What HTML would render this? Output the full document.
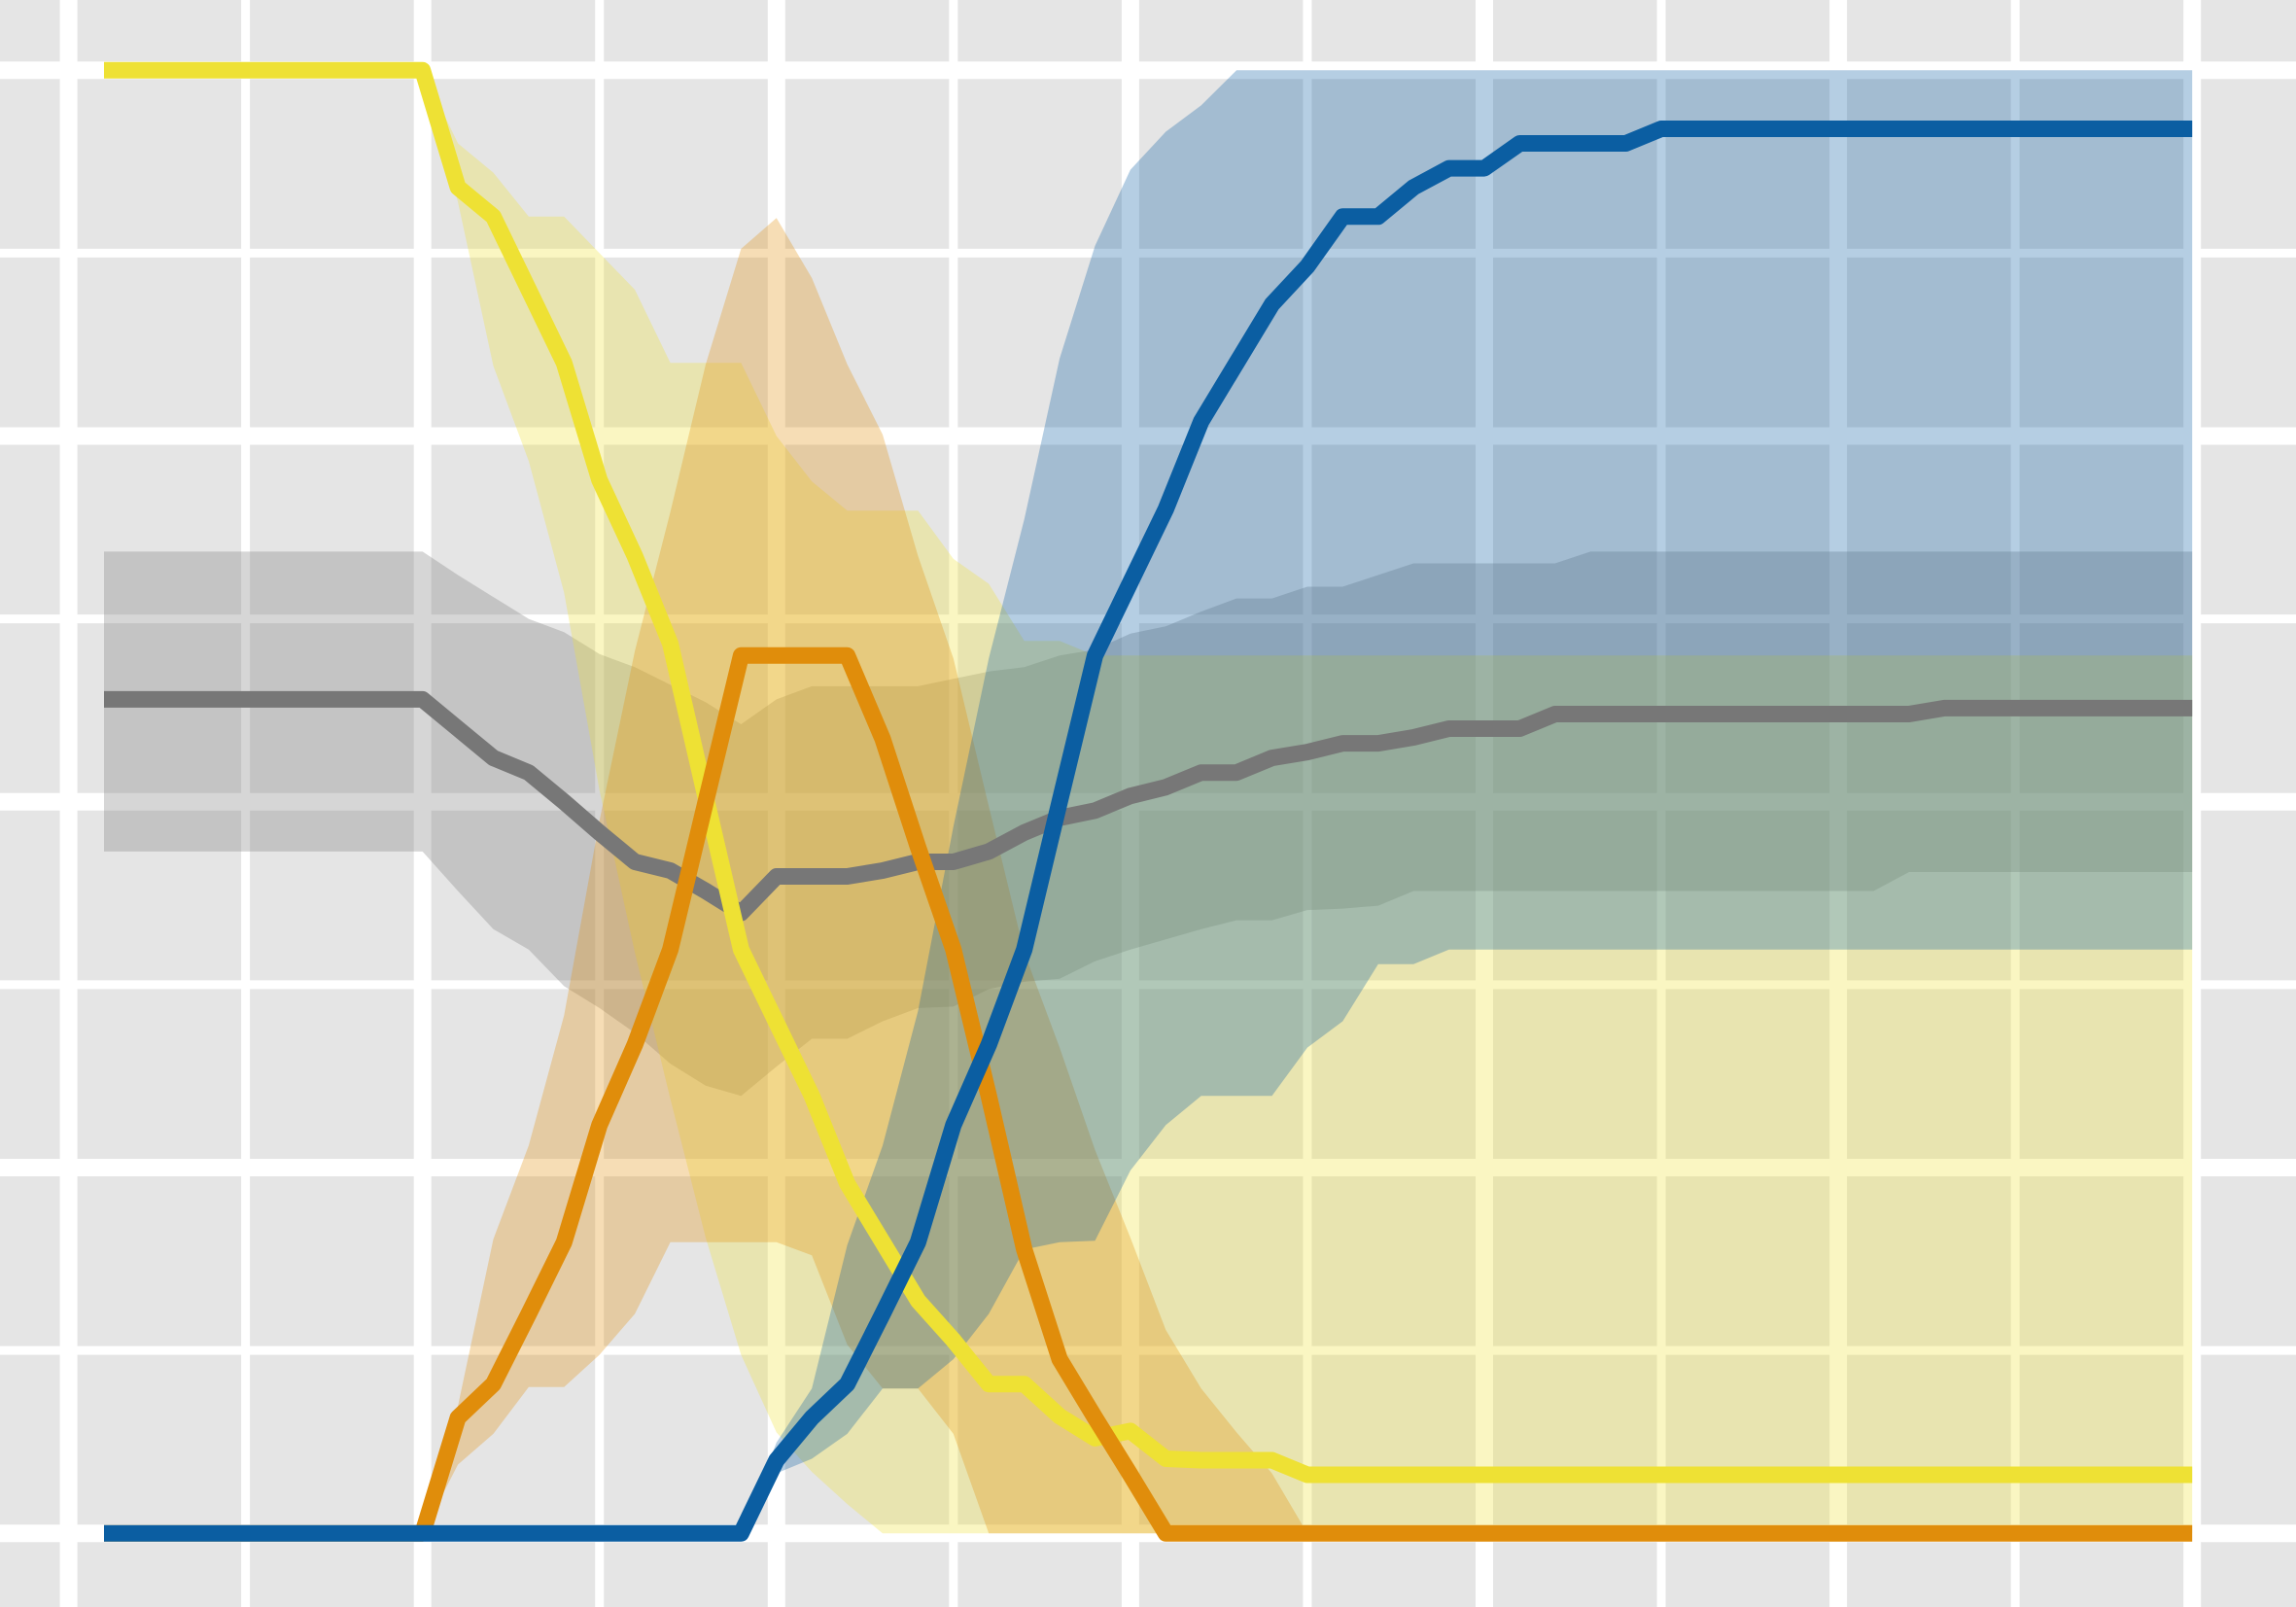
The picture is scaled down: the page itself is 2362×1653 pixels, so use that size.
<!DOCTYPE html>
<html><head><meta charset="utf-8"><style>
html,body{margin:0;padding:0;background:#e5e5e5;}
svg{display:block;}
</style></head><body>
<svg id="chart" width="2362" height="1653" viewBox="0 0 2362 1653" xmlns="http://www.w3.org/2000/svg">
<rect x="0" y="0" width="2362" height="1653" fill="#e5e5e5"/>
<g id="grid"></g>
<g id="bands"></g>
<g id="lines"></g>
</svg>
<script>
const yellowLine=[1,1,1,1,1,1,1,1,1,1,.920,.900,.850,.800,.720,.668,.608,.503,.399,.349,.299,.239,.199,.159,.132,.102,.102,.080,.065,.070,.051,.050,.050,.050,.040,.040,.040,.040,.040,.040,.040,.040,.040,.040,.040,.040,.040,.040,.040,.040,.040,.040,.040,.040,.040,.040,.040,.040,.040,.040];
const orangeLine=[0,0,0,0,0,0,0,0,0,0,.079,.102,.150,.199,.279,.334,.399,.500,.600,.600,.600,.600,.543,.469,.399,.299,.194,.119,.079,.040,0,0,0,0,0,0,0,0,0,0,0,0,0,0,0,0,0,0,0,0,0,0,0,0,0,0,0,0,0,0];
const blueLine=[0,0,0,0,0,0,0,0,0,0,0,0,0,0,0,0,0,0,0,.050,.079,.102,.150,.199,.279,.334,.399,.500,.600,.650,.700,.760,.800,.840,.866,.900,.900,.920,.933,.933,.950,.950,.950,.950,.960,.960,.960,.960,.960,.960,.960,.960,.960,.960,.960,.960,.960,.960,.960,.960];
const grayLine=[.570,.570,.570,.570,.570,.570,.570,.570,.570,.570,.550,.530,.520,.500,.479,.459,.453,.439,.424,.449,.449,.449,.453,.459,.459,.466,.479,.489,.494,.504,.510,.520,.520,.530,.534,.540,.540,.544,.550,.550,.550,.560,.560,.560,.560,.560,.560,.560,.560,.560,.560,.560,.564,.564,.564,.564,.564,.564,.564,.564];

const yellowUpper=[1,1,1,1,1,1,1,1,1,1,.950,.930,.900,.900,.875,.850,.800,.800,.800,.750,.719,.699,.699,.699,.666,.649,.610,.610,.600,.600,.600,.600,.600,.600,.600,.600,.600,.600,.600,.600,.600,.600,.600,.600,.600,.600,.600,.600,.600,.600,.600,.600,.600,.600,.600,.600,.600,.600,.600,.600];
const yellowLower=[1,1,1,1,1,1,1,1,1,1,.910,.798,.733,.643,.508,.397,.297,.202,.122,.069,.042,.020,0,0,0,0,0,0,0,0,0,0,0,0,0,0,0,0,0,0,0,0,0,0,0,0,0,0,0,0,0,0,0,0,0,0,0,0,0,0];
const orangeUpper=[0,0,0,0,0,0,0,0,0,0,.087,.201,.265,.354,.487,.603,.698,.799,.878,.899,.858,.799,.751,.668,.598,.497,.397,.332,.262,.202,.139,.099,.069,.041,0,0,0,0,0,0,0,0,0,0,0,0,0,0,0,0,0,0,0,0,0,0,0,0,0,0];
const orangeLower=[0,0,0,0,0,0,0,0,0,0,.047,.068,.100,.100,.122,.150,.199,.199,.199,.199,.190,.129,.099,.099,.068,0,0,0,0,0,0,0,0,0,0,0,0,0,0,0,0,0,0,0,0,0,0,0,0,0,0,0,0,0,0,0,0,0,0,0];
const blueUpper=[0,0,0,0,0,0,0,0,0,0,0,0,0,0,0,0,0,0,0,.062,.099,.197,.265,.357,.483,.598,.693,.803,.880,.932,.958,.976,1,1,1,1,1,1,1,1,1,1,1,1,1,1,1,1,1,1,1,1,1,1,1,1,1,1,1,1];
const blueLower=[0,0,0,0,0,0,0,0,0,0,0,0,0,0,0,0,0,0,0,.041,.051,.068,.099,.099,.119,.150,.194,.199,.200,.248,.279,.299,.299,.299,.332,.350,.389,.389,.399,.399,.399,.399,.399,.399,.399,.399,.399,.399,.399,.399,.399,.399,.399,.399,.399,.399,.399,.399,.399,.399];
const grayUpper=[.671,.671,.671,.671,.671,.671,.671,.671,.671,.671,.655,.640,.625,.616,.601,.592,.580,.568,.553,.570,.579,.579,.579,.579,.584,.589,.592,.600,.604,.615,.620,.630,.639,.639,.647,.647,.655,.663,.663,.663,.663,.663,.671,.671,.671,.671,.671,.671,.671,.671,.671,.671,.671,.671,.671,.671,.671,.671,.671,.671];
const grayLower=[.466,.466,.466,.466,.466,.466,.466,.466,.466,.466,.439,.413,.399,.374,.359,.342,.321,.306,.299,.319,.338,.338,.350,.359,.360,.372,.377,.379,.391,.399,.406,.413,.419,.419,.426,.427,.429,.439,.439,.439,.439,.439,.439,.439,.439,.439,.439,.439,.439,.439,.439,.452,.452,.452,.452,.452,.452,.452,.452,.452];

const xGridTicks=[-1,4,9,14,19,24,29,34,39,44,49,54,59];
const yGridTicks=[0,0.125,0.25,0.375,0.5,0.625,0.75,0.875,1];

const NS='http://www.w3.org/2000/svg';
function X(i){return 107+i*36.41;}
function Y(v){return 1577.2-v*1504.9;}

const grid=document.getElementById('grid');
xGridTicks.forEach((t,k)=>{
  const l=document.createElementNS(NS,'line');
  l.setAttribute('x1',X(t));l.setAttribute('x2',X(t));l.setAttribute('y1',0);l.setAttribute('y2',1653);
  l.setAttribute('stroke','#fff');l.setAttribute('stroke-width',k%2===0?18:9);
  
  
  grid.appendChild(l);
});
yGridTicks.forEach((t,k)=>{
  const l=document.createElementNS(NS,'line');
  l.setAttribute('y1',Y(t));l.setAttribute('y2',Y(t));l.setAttribute('x1',0);l.setAttribute('x2',2362);
  l.setAttribute('stroke','#fff');l.setAttribute('stroke-width',k%2===0?18:9);
  
  
  grid.appendChild(l);
});

const bands=document.getElementById('bands');
function band(up,lo,color,name){
  let d='';
  up.forEach((v,i)=>{d+=(i?'L':'M')+X(i).toFixed(1)+','+Y(v).toFixed(1);});
  for(let i=lo.length-1;i>=0;i--){d+='L'+X(i).toFixed(1)+','+Y(lo[i]).toFixed(1);}
  d+='Z';
  const p=document.createElementNS(NS,'path');
  p.setAttribute('d',d);p.setAttribute('fill',color);p.setAttribute('fill-opacity','0.3');
  
  
  bands.appendChild(p);
}
band(grayUpper,grayLower,'#777777','gray-band');
band(yellowUpper,yellowLower,'#eee134','yellow-band');
band(orangeUpper,orangeLower,'#e08d0b','orange-band');
band(blueUpper,blueLower,'#0b5ea2','blue-band');

const lines=document.getElementById('lines');
function line(vals,color,name){
  const pts=vals.map((v,i)=>X(i).toFixed(1)+','+Y(v).toFixed(1)).join(' ');
  const p=document.createElementNS(NS,'polyline');
  p.setAttribute('points',pts);p.setAttribute('fill','none');p.setAttribute('stroke',color);
  p.setAttribute('stroke-width','17');p.setAttribute('stroke-linejoin','round');
  
  
  lines.appendChild(p);
}
line(grayLine,'#777777','gray-line');
line(yellowLine,'#eee134','yellow-line');
line(orangeLine,'#e08d0b','orange-line');
line(blueLine,'#0b5ea2','blue-line');
</script>
</body></html>
